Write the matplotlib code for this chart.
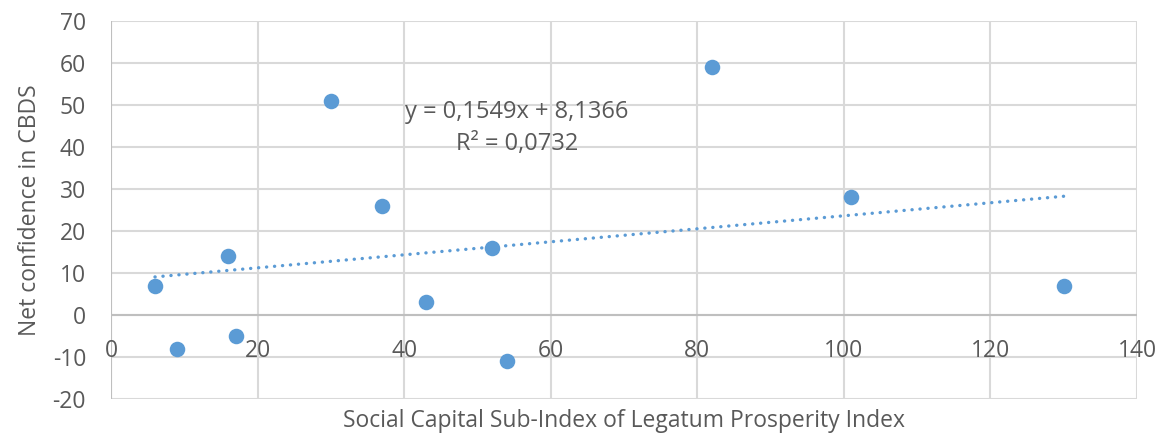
import matplotlib
matplotlib.use("Agg")
import matplotlib.pyplot as plt
import numpy as np

x_vals = [6, 9, 16, 17, 30, 37, 43, 52, 54, 82, 101, 130]
y_vals = [7, -8, 14, -5, 51, 26, 3, 16, -11, 59, 28, 7]
x_ticks = [0, 20, 40, 60, 80, 100, 120, 140]
y_ticks = [-20, -10, 0, 10, 20, 30, 40, 50, 60, 70]
eq_text = "y = 0,1549x + 8,1366\nR² = 0,0732"
x_label = "Social Capital Sub-Index of Legatum Prosperity Index"
y_label = "Net confidence in CBDS"

plt.rcParams['font.family'] = ['Open Sans', 'DejaVu Sans']
text_color = "#595959"
blue = "#5B9BD5"
grid_c = "#D9D9D9"
fs = 16.5

fig = plt.figure(figsize=(11.66, 4.34), dpi=100)
ax = fig.add_axes([111/1166, 35/434, (1137-111)/1166, (399-21)/434])
ax.set_xlim(0, 140)
ax.set_ylim(-20, 70)

for xt in x_ticks:
    ax.axvline(xt, color=grid_c, lw=1.5, zorder=0)
for yt in y_ticks:
    ax.axhline(yt, color=grid_c, lw=1.5, zorder=0)
ax.axhline(0, color="#BFBFBF", lw=1.5, zorder=1)
ax.axvline(0, color="#BFBFBF", lw=1.5, zorder=1)
for s in ax.spines.values():
    s.set_visible(False)

ax.set_xticks([])
ax.set_yticks(y_ticks)
ax.set_yticklabels([str(v) for v in y_ticks])
ax.tick_params(axis='y', length=0, pad=18, labelsize=fs, labelcolor=text_color)

for xt in x_ticks:
    ax.text(xt, -8.5, str(xt), ha='center', va='center', fontsize=fs, color=text_color)

xa = np.array(x_vals, dtype=float)
ya = np.array(y_vals, dtype=float)
m, b = np.polyfit(xa, ya, 1)
xl = np.array([xa.min(), xa.max()])
ax.plot(xl, m * xl + b, color=blue, lw=2.4, linestyle=(0, (0.05, 2.35)),
        dash_capstyle='round', zorder=2)

ax.scatter(xa, ya, s=125, color=blue, zorder=3, linewidths=0)

ax.text(55.4, 44.5, eq_text, ha='center', va='center', fontsize=17,
        color=text_color, multialignment='center', linespacing=1.4)

fig.text(624/1166, 1 - 421/434, x_label, ha='center', va='center', fontsize=fs, color=text_color)
fig.text(30/1166, 1 - 210/434, y_label, ha='center', va='center', fontsize=fs,
         color=text_color, rotation=90)

fig.savefig("out.png", dpi=100)
